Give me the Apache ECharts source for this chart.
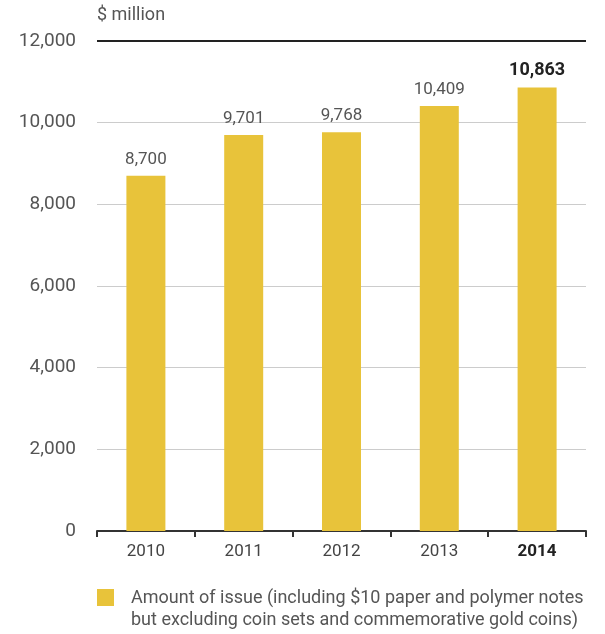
<!DOCTYPE html>
<html>
<head>
<meta charset="utf-8">
<script src="https://cdn.jsdelivr.net/npm/echarts@6/dist/echarts.min.js"></script>
<style>
  html, body { margin: 0; padding: 0; background: #fff; }
  #chart { width: 605px; height: 634px; }
</style>
</head>
<body>
<div id="chart"></div>
<script>
var years = ['2010', '2011', '2012', '2013', '2014'];
var issue = [8700, 9701, 9768, 10409, 10863];
var yTicks = [0, 2000, 4000, 6000, 8000, 10000, 12000];

var myChart = echarts.init(document.getElementById('chart'), null, { renderer: 'canvas' });
var font = 'Roboto, "DejaVu Sans", sans-serif';
var gold = '#e8c33a';

var option = {
  animation: false,
  textStyle: { fontFamily: font },
  grid: { left: 97, right: 19, top: 41, bottom: 103 },
  xAxis: {
    type: 'category',
    data: years,
    axisLine: { lineStyle: { color: '#333', width: 2 } },
    axisTick: { show: true, length: 6, lineStyle: { color: '#333', width: 2 } },
    axisLabel: {
      margin: 12,
      fontSize: 17,
      color: '#444',
      fontFamily: font,
      formatter: function (v, i) { return i === years.length - 1 ? '{b|' + v + '}' : v; },
      rich: { b: { fontWeight: 'bold', color: '#222', fontSize: 17, fontFamily: font } }
    }
  },
  yAxis: {
    type: 'value',
    min: yTicks[0],
    max: yTicks[yTicks.length - 1],
    interval: 2000,
    axisLine: { show: false },
    axisTick: { show: false },
    splitLine: { lineStyle: { color: '#cccccc', width: 1 } },
    axisLabel: {
      margin: 21,
      fontSize: 19,
      color: '#555',
      fontFamily: font,
      formatter: function (v) { return v.toLocaleString('en-US'); }
    }
  },
  graphic: [
    { type: 'text', left: 97, top: 6, style: { text: '$ million', fontSize: 18, fill: '#555', fontFamily: font } },
    { type: 'rect', left: 97, top: 589, shape: { width: 17, height: 17 }, style: { fill: gold } },
    { type: 'text', left: 131, top: 587, style: {
      text: 'Amount of issue (including $10 paper and polymer notes\nbut excluding coin sets and commemorative gold coins)',
      fontSize: 18, lineHeight: 22, fill: '#555', fontFamily: font } }
  ],
  series: [{
    type: 'bar',
    data: issue.map(function (v, i) {
      var last = i === issue.length - 1;
      return {
        value: v,
        label: last ? { fontWeight: 'bold', color: '#222', fontSize: 18 } : undefined
      };
    }),
    barWidth: 39,
    itemStyle: { color: gold },
    label: {
      show: true,
      position: 'top',
      distance: 8,
      fontSize: 17,
      color: '#555',
      fontFamily: font,
      formatter: function (p) { return p.value.toLocaleString('en-US'); }
    },
    markLine: {
      silent: true,
      symbol: 'none',
      label: { show: false },
      lineStyle: { color: '#222', width: 2, type: 'solid' },
      data: [{ yAxis: yTicks[yTicks.length - 1] }]
    }
  }]
};

myChart.setOption(option);
window.addEventListener('resize', myChart.resize);
</script>
</body>
</html>
